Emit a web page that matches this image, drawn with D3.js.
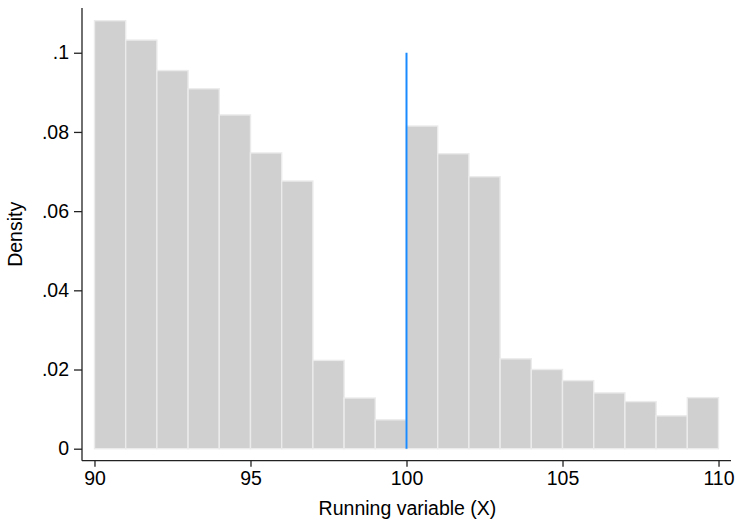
<!DOCTYPE html>
<html>
<head>
<meta charset="utf-8">
<script src="https://cdn.jsdelivr.net/npm/d3@7"></script>
<style>
  html, body { margin: 0; padding: 0; background: #fff; }
  svg { display: block; font-family: Arial, "Liberation Sans", sans-serif; }
</style>
</head>
<body>
<svg id="chart" width="737" height="520"></svg>
<script>
// Histogram data: bin lower edges (width 1) and densities
const binStarts = [90, 91, 92, 93, 94, 95, 96, 97, 98, 99, 100, 101, 102, 103, 104, 105, 106, 107, 108, 109];
const binWidth = 1;
const densities = [0.1081, 0.1032, 0.0955, 0.0909, 0.0843, 0.0747, 0.0676, 0.0223, 0.0128, 0.0073,
                   0.0815, 0.0745, 0.0687, 0.0227, 0.0200, 0.0172, 0.0141, 0.0119, 0.0083, 0.0129];
const xTicks = [90, 95, 100, 105, 110];
const yTicks = [0, 0.02, 0.04, 0.06, 0.08, 0.1];
const yTickLabels = ["0", ".02", ".04", ".06", ".08", ".1"];
const cutoff = [100];
const cutoffRange = [0, 0.1];
const xLabel = "Running variable (X)";
const yLabel = "Density";

const svg = d3.select("#chart");
const pLeft = 82, pRight = 731, pTop = 8, pBottom = 460.7;
const fontSize = "19.5px";

const x = d3.scaleLinear().domain([89.6, 110.4]).range([pLeft, pRight]);
const y = d3.scaleLinear().domain([-0.00303, 0.1113]).range([pBottom, pTop]);

// bars
svg.append("g").selectAll("rect")
  .data(binStarts.map((s, i) => ({ s, v: densities[i] })))
  .join("rect")
  .attr("x", d => x(d.s))
  .attr("width", d => x(d.s + binWidth) - x(d.s))
  .attr("y", d => y(d.v))
  .attr("height", d => y(0) - y(d.v))
  .attr("fill", "#d0d0d0")
  .attr("stroke", "#ebebeb")
  .attr("stroke-width", 1.4);

// cutoff line
svg.append("g").selectAll("line")
  .data(cutoff)
  .join("line")
  .attr("x1", d => x(d)).attr("x2", d => x(d))
  .attr("y1", y(cutoffRange[0])).attr("y2", y(cutoffRange[1]))
  .attr("stroke", "#1a8aff")
  .attr("stroke-width", 2);

// axes
const yAxis = d3.axisLeft(y).tickValues(yTicks)
  .tickFormat((d, i) => yTickLabels[i]).tickSize(8).tickPadding(5);
const gy = svg.append("g").attr("transform", `translate(${pLeft},0)`).call(yAxis);
gy.select(".domain").attr("d", `M0,${pTop}V${pBottom}`);

const xAxis = d3.axisBottom(x).tickValues(xTicks).tickFormat(d3.format("d")).tickSize(6).tickPadding(4);
const gx = svg.append("g").attr("transform", `translate(0,${pBottom})`).call(xAxis);
gx.select(".domain").attr("d", `M${pLeft},0H${pRight}`);

[gx, gy].forEach(g => {
  g.selectAll(".domain").attr("stroke", "#222").attr("stroke-width", 1.3);
  g.selectAll(".tick line").attr("stroke", "#222").attr("stroke-width", 1.3);
  g.selectAll(".tick text").attr("fill", "#000").style("font-size", fontSize)
    .style("font-family", "Arial, 'Liberation Sans', sans-serif");
});

// axis titles
svg.append("text")
  .attr("x", (pLeft + pRight) / 2 + 1)
  .attr("y", 515)
  .attr("text-anchor", "middle")
  .style("font-size", fontSize)
  .attr("fill", "#000")
  .text(xLabel);

svg.append("text")
  .attr("transform", `translate(22,${(pTop + pBottom) / 2}) rotate(-90)`)
  .attr("text-anchor", "middle")
  .style("font-size", fontSize)
  .attr("fill", "#000")
  .text(yLabel);
</script>
</body>
</html>
